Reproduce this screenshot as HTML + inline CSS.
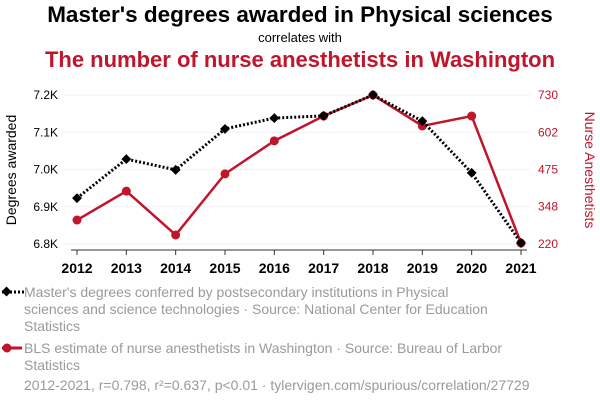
<!DOCTYPE html>
<html><head><meta charset="utf-8"><style>
body{margin:0;background:#fff;width:600px;height:408px;overflow:hidden;font-family:"Liberation Sans",sans-serif}
svg{display:block}
</style></head><body>
<svg width="600" height="408" id="c">
<text x="300" y="22" text-anchor="middle" font-size="22.5" font-weight="bold" fill="#000">Master's degrees awarded in Physical sciences</text>
<text x="300" y="42" text-anchor="middle" font-size="13" fill="#000">correlates with</text>
<text x="300" y="67" text-anchor="middle" font-size="22" font-weight="bold" fill="#c0152b">The number of nurse anesthetists in Washington</text>
<text transform="translate(16,170) rotate(-90)" text-anchor="middle" font-size="14" fill="#000">Degrees awarded</text>
<text transform="translate(585,170) rotate(90)" text-anchor="middle" font-size="14" fill="#c0152b">Nurse Anesthetists</text>
<g id="grid"></g><g id="axes"></g><g id="series"></g>
<g font-size="14" fill="#9a9a9a">
<line x1="2" y1="292" x2="24" y2="292" stroke="#000" stroke-width="3" stroke-dasharray="2,2"/>
<rect x="3" y="288" width="7" height="7" fill="#000" transform="rotate(45 6.5 291.5)"/>
<text x="24" y="297"><tspan>Master's degrees conferred by postsecondary institutions in Physical</tspan><tspan x="24" dy="17">sciences and science technologies · Source: National Center for Education</tspan><tspan x="24" dy="17">Statistics</tspan></text>
<line x1="2" y1="348" x2="22" y2="348" stroke="#c0152b" stroke-width="3"/>
<circle cx="7" cy="348" r="4.5" fill="#c0152b"/>
<text x="24" y="353"><tspan>BLS estimate of nurse anesthetists in Washington · Source: Bureau of Larbor</tspan><tspan x="24" dy="17">Statistics</tspan></text>
<text x="24" y="390">2012-2021, r=0.798, r²=0.637, p&lt;0.01 · tylervigen.com/spurious/correlation/27729</text>
</g>
</svg>
<script>
const years=[2012,2013,2014,2015,2016,2017,2018,2019,2020,2021];
const degrees=[6923,7028,6999,7109,7138,7144,7200,7130,6991,6803];
const nurses=[302,401,251,460,573,658,730,624,658,223];
const leftTicks=[6800,6900,7000,7100,7200];
const leftLabels=["6.8K","6.9K","7.0K","7.1K","7.2K"];
const rightTicks=[220,348,475,602,730];
const NS="http://www.w3.org/2000/svg";
const x=i=>77+i*(521-77)/9;
const yL=v=>244-(v-6800)/400*149;
const yR=v=>244-(v-220)/510*149;
function mk(t,a,p){const e=document.createElementNS(NS,t);for(const k in a)e.setAttribute(k,a[k]);p.appendChild(e);return e;}
const grid=document.getElementById('grid'),axes=document.getElementById('axes'),ser=document.getElementById('series');
leftTicks.forEach((v,i)=>{
 const g=mk('line',{x1:62,x2:530,y1:yL(v),y2:yL(v),stroke:'#f2f2f2','stroke-width':1},grid);
 
 
 const t=mk('text',{x:58,y:yL(v)+4,'text-anchor':'end','font-size':12,fill:'#000'},axes);
 t.textContent=leftLabels[i];
 
 
});
rightTicks.forEach(v=>{
 const t=mk('text',{x:538,y:yR(v)+4,'font-size':12,fill:'#c0152b'},axes);
 t.textContent=v;
 
 
});
const ax=mk('line',{x1:71,x2:527,y1:250,y2:250,stroke:'#333','stroke-width':1},axes);


years.forEach((y,i)=>{
 mk('line',{x1:x(i),x2:x(i),y1:250,y2:255,stroke:'#333'},axes);
 const t=mk('text',{x:x(i),y:273,'text-anchor':'middle','font-size':14,'font-weight':'bold',fill:'#000'},axes);
 t.textContent=y;
 
 
});
const rl=mk('polyline',{points:nurses.map((v,i)=>x(i)+','+yR(v)).join(' '),fill:'none',stroke:'#c0152b','stroke-width':2.5},ser);


nurses.forEach((v,i)=>{const c=mk('circle',{cx:x(i),cy:yR(v),r:4.5,fill:'#c0152b'},ser);
 
 });
const bl=mk('polyline',{points:degrees.map((v,i)=>x(i)+','+yL(v)).join(' '),fill:'none',stroke:'#000','stroke-width':3,'stroke-dasharray':'2,2'},ser);


degrees.forEach((v,i)=>{const r=mk('rect',{x:x(i)-3.5,y:yL(v)-3.5,width:7,height:7,fill:'#000',transform:`rotate(45 ${x(i)} ${yL(v)})`},ser);
 
 });
</script>
</body></html>
